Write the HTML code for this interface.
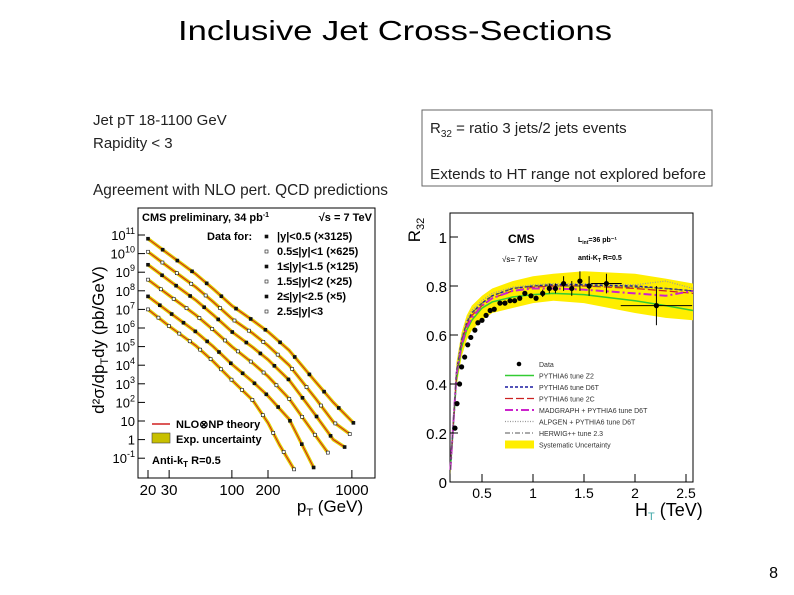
<!DOCTYPE html>
<html><head><meta charset="utf-8"><style>
body{margin:0;background:#fff;width:794px;height:595px;overflow:hidden;font-family:"Liberation Sans",Arial,sans-serif}
svg{position:absolute;left:0;top:0}
</style></head><body>
<svg id="s" width="794" height="595" viewBox="0 0 794 595">
<text x="178" y="40" font-size="28" textLength="434" lengthAdjust="spacingAndGlyphs">Inclusive Jet Cross-Sections</text>
<g font-size="15" fill="#222">
<text x="93" y="125">Jet pT 18-1100 GeV</text>
<text x="93" y="148">Rapidity &lt; 3</text>
<text x="93" y="195" font-size="16" textLength="295" lengthAdjust="spacingAndGlyphs">Agreement with NLO pert. QCD predictions</text>
</g>
<rect x="422" y="110" width="290" height="76" fill="none" stroke="#666" stroke-width="1"/>
<text x="430" y="133" font-size="15" fill="#222">R<tspan font-size="10" dy="4">32</tspan><tspan dy="-4"> = ratio 3 jets/2 jets events</tspan></text>
<text x="430" y="179" font-size="15" fill="#222" textLength="276" lengthAdjust="spacingAndGlyphs">Extends to HT range not explored before</text>
<text x="778" y="578" text-anchor="end" font-size="16">8</text>
<g id="L"></g><g id="R"></g>
</svg>
<script>
// ---- Left chart data (log10 of cross-section) ----
const s1x=[20,30,50,70,100,150,200,300,500,700,1030];
const s1y=[10.8,9.95,8.9,8.1,7.2,6.4,5.8,4.8,3.1,2.0,0.9];
const s2x=[20,30,50,70,100,150,200,300,500,700,960];
const s2y=[10.1,9.25,8.2,7.4,6.5,5.7,5.05,4.0,2.2,0.95,0.3];
const s3x=[20,30,50,70,100,150,200,300,500,700,870];
const s3y=[9.4,8.55,7.5,6.7,5.8,4.95,4.3,3.2,1.3,0.0,-0.4];
const s4x=[20,30,50,70,100,150,200,300,500,630];
const s4y=[8.6,7.75,6.7,5.9,5.0,4.1,3.4,2.2,0.2,-0.7];
const s5x=[20,30,50,70,100,150,200,300,480];
const s5y=[7.7,6.85,5.8,5.0,4.05,3.1,2.35,1.1,-1.5];
const s6x=[20,30,50,70,100,150,200,250,330];
const s6y=[7.0,6.1,5.05,4.2,3.2,2.1,0.9,-0.3,-1.6];
const yTickExp=[11,10,9,8,7,6,5,4,3,2,1,0,-1];
const xTicks=[20,30,100,200,1000];
const legendLabels=["|y|<0.5 (×3125)","0.5≤|y|<1 (×625)","1≤|y|<1.5 (×125)","1.5≤|y|<2 (×25)","2≤|y|<2.5 (×5)","2.5≤|y|<3"];
// ---- Right chart data ----
const htData=[0.235,0.255,0.28,0.30,0.33,0.36,0.39,0.43,0.46,0.50,0.54,0.58,0.62,0.676,0.725,0.775,0.82,0.87,0.92,0.98,1.03,1.095,1.16,1.22,1.30,1.38,1.46,1.55,1.72,2.21];
const r32Data=[0.22,0.32,0.40,0.47,0.51,0.56,0.59,0.62,0.65,0.66,0.68,0.70,0.705,0.73,0.73,0.74,0.74,0.75,0.77,0.76,0.75,0.77,0.79,0.79,0.81,0.79,0.82,0.80,0.81,0.72];
const r32Err=[0,0,0,0,0,0,0,0,0,0,0,0,0,0,0,0,0,0,0,0,0,0.015,0.02,0.02,0.03,0.03,0.04,0.04,0.04,0.08];
const htErr=[0,0,0,0,0,0,0,0,0,0,0,0,0,0,0,0,0,0,0,0,0,0,0,0,0,0,0,0,0.15,0.35];
const mGrid=[0.19,0.25,0.3,0.35,0.4,0.5,0.6,0.8,1.0,1.2,1.5,2.0,2.3,2.6];
const mZ2=[0.05,0.42,0.55,0.62,0.66,0.71,0.735,0.755,0.765,0.77,0.765,0.74,0.72,0.70];
const mD6T=[0.05,0.45,0.58,0.65,0.69,0.73,0.76,0.79,0.80,0.805,0.805,0.80,0.79,0.78];
const m2C=[0.05,0.44,0.57,0.64,0.68,0.72,0.75,0.78,0.795,0.80,0.80,0.79,0.78,0.77];
const mMad=[0.05,0.44,0.56,0.63,0.67,0.72,0.75,0.78,0.79,0.79,0.785,0.77,0.76,0.78];
const mAlp=[0.05,0.46,0.59,0.66,0.70,0.74,0.77,0.795,0.805,0.81,0.81,0.805,0.82,0.79];
const mHer=[0.05,0.45,0.58,0.65,0.69,0.73,0.76,0.79,0.80,0.80,0.80,0.795,0.79,0.78];
const bandLo=[0.03,0.39,0.51,0.58,0.62,0.66,0.69,0.71,0.73,0.74,0.73,0.69,0.67,0.66];
const bandHi=[0.07,0.49,0.61,0.68,0.72,0.76,0.79,0.82,0.84,0.85,0.86,0.85,0.83,0.81];
const rYTicks=[0,0.2,0.4,0.6,0.8,1];
const rXTicks=[0.5,1,1.5,2,2.5];
const rLegend=["Data","PYTHIA6 tune Z2","PYTHIA6 tune D6T","PYTHIA6 tune 2C","MADGRAPH + PYTHIA6 tune D6T","ALPGEN + PYTHIA6 tune D6T","HERWIG++ tune 2.3","Systematic Uncertainty"];

const NS="http://www.w3.org/2000/svg";
function mk(p,t,a,txt){const e=document.createElementNS(NS,t);for(const k in a)e.setAttribute(k,a[k]);if(txt!==undefined)e.textContent=txt;p.appendChild(e);return e;}
// Left axes
const LX0=138,LX1=375,LY0=208,LY1=478;
const lx=v=>148+(Math.log10(v)-Math.log10(20))*120;
const ly=e=>235+(11-e)*18.6;
const L=document.getElementById('L');
let e=mk(L,'rect',{x:LX0,y:LY0,width:LX1-LX0,height:LY1-LY0,fill:'#fff',stroke:'#000','stroke-width':1});


yTickExp.forEach(k=>{
  const y=ly(k);
  mk(L,'line',{x1:LX0,x2:LX0+7,y1:y,y2:y,stroke:'#000'});
  let lbl;
  if(k===1)lbl='10';else if(k===0)lbl='1';
  const t=mk(L,'text',{x:LX0-3,y:y+5,'text-anchor':'end','font-size':13});
  
  
  if(lbl)t.textContent=lbl;else{t.textContent='10';mk(t,'tspan',{dy:-6,'font-size':9},String(k));}
});
xTicks.forEach(v=>{
  const x=lx(v);
  mk(L,'line',{x1:x,x2:x,y1:LY1,y2:LY1-8,stroke:'#000'});
  const t=mk(L,'text',{x:x,y:LY1+17,'text-anchor':'middle','font-size':15},String(v));
  
  
});
e=mk(L,'text',{x:330,y:512,'text-anchor':'middle','font-size':17},'p');mk(e,'tspan',{dy:4,'font-size':11},'T');mk(e,'tspan',{dy:-4},' (GeV)');

e=mk(L,'text',{transform:'translate(104,340) rotate(-90)','text-anchor':'middle','font-size':17},'d²σ/dp');mk(e,'tspan',{dy:4,'font-size':11},'T');mk(e,'tspan',{dy:-4},'dy (pb/GeV)');

e=mk(L,'text',{x:142,y:221,'font-size':11,'font-weight':'bold'},'CMS preliminary, 34 pb');mk(e,'tspan',{dy:-4,'font-size':7},'-1');

e=mk(L,'text',{x:372,y:221,'font-size':11,'font-weight':'bold','text-anchor':'end'},'√s = 7 TeV');

e=mk(L,'text',{x:207,y:240,'font-size':11,'font-weight':'bold'},'Data for:');

const series=[[s1x,s1y],[s2x,s2y],[s3x,s3y],[s4x,s4y],[s5x,s5y],[s6x,s6y]];
series.forEach((s,i)=>{
  const pts=s[0].map((v,j)=>lx(v)+','+ly(s[1][j])).join(' ');
  let b=mk(L,'polyline',{points:pts,fill:'none',stroke:'#e0d000','stroke-width':3.5,'stroke-linejoin':'round'});
  
  let r=mk(L,'polyline',{points:pts,fill:'none',stroke:'#d02020','stroke-width':1});
  
  const n=14;
  for(let k=0;k<=n;k++){
    const lp=Math.log10(s[0][0])+(Math.log10(s[0][s[0].length-1])-Math.log10(s[0][0]))*k/n;
    const pv=Math.pow(10,lp);let j=0;while(j<s[0].length-2&&s[0][j+1]<pv)j++;
    const a0=Math.log10(s[0][j]),a1=Math.log10(s[0][j+1]);const f=(lp-a0)/(a1-a0);
    const yv=s[1][j]+(s[1][j+1]-s[1][j])*f;
    const d=mk(L,'rect',{x:lx(pv)-1.5,y:ly(yv)-1.5,width:3,height:3,fill:i%2?'#fff':'#111',stroke:'#111','stroke-width':0.6});
    
  }
  const ty=240+i*15;
  mk(L,'rect',{x:265,y:ty-5,width:3,height:3,fill:i%2?'#fff':'#111',stroke:'#111','stroke-width':0.6});
  const t=mk(L,'text',{x:277,y:ty,'font-size':11,'font-weight':'bold'},legendLabels[i]);
  
});
mk(L,'line',{x1:152,x2:170,y1:424,y2:424,stroke:'#d02020','stroke-width':1.5});
e=mk(L,'text',{x:176,y:428,'font-size':11,'font-weight':'bold'},'NLO⊗NP theory');
mk(L,'rect',{x:152,y:433,width:18,height:10,fill:'#c8c000',stroke:'#444','stroke-width':0.6});
e=mk(L,'text',{x:176,y:443,'font-size':11,'font-weight':'bold'},'Exp. uncertainty');
e=mk(L,'text',{x:152,y:464,'font-size':11,'font-weight':'bold'},'Anti-k');mk(e,'tspan',{dy:3,'font-size':8},'T');mk(e,'tspan',{dy:-3},' R=0.5');


// Right chart
const RX0=450,RX1=693,RY0=213,RY1=482;
const rx=v=>431+v*102;
const ry=v=>482-v*245;
const R=document.getElementById('R');
e=mk(R,'rect',{x:RX0,y:RY0,width:RX1-RX0,height:RY1-RY0,fill:'#fff',stroke:'#000'});

const bandPts=mGrid.map((v,i)=>Math.min(rx(v),RX1)+','+ry(bandHi[i])).concat(mGrid.slice().reverse().map((v,i)=>Math.min(rx(v),RX1)+','+ry(bandLo[mGrid.length-1-i])));
e=mk(R,'polygon',{points:bandPts.join(' '),fill:'#ffee00'});

const models=[[mZ2,'#33cc33','',1.5],[mD6T,'#1a1aa0','3,2',1.5],[m2C,'#cc2222','8,3',1.2],[mMad,'#cc22cc','8,3,2,3',2],[mAlp,'#999','1,1.5',1.2],[mHer,'#555','5,2,1,2',1]];
const mNames=['model-pythia6-z2','model-pythia6-d6t','model-pythia6-2c','model-madgraph','model-alpgen','model-herwig'];
models.forEach((m,i)=>{
  const p=mk(R,'polyline',{points:mGrid.map((v,j)=>Math.min(rx(v),RX1)+','+ry(m[0][j])).join(' '),fill:'none',stroke:m[1],'stroke-width':m[3],'stroke-dasharray':m[2]});
  
});
htData.forEach((h,i)=>{
  const x=rx(h),y=ry(r32Data[i]);
  if(r32Err[i])mk(R,'line',{x1:x,x2:x,y1:ry(r32Data[i]-r32Err[i]),y2:ry(r32Data[i]+r32Err[i]),stroke:'#000'});
  if(htErr[i])mk(R,'line',{x1:rx(h-htErr[i]),x2:Math.min(rx(h+htErr[i]),RX1),y1:y,y2:y,stroke:'#000'});
  const c=mk(R,'circle',{cx:x,cy:y,r:2.6,fill:'#000'});
  
});
rYTicks.forEach(v=>{const y=ry(v);mk(R,'line',{x1:RX0,x2:RX0+8,y1:y,y2:y,stroke:'#000'});
  const t=mk(R,'text',{x:RX0-3,y:y+6,'text-anchor':'end','font-size':15},String(v));});
rXTicks.forEach(v=>{const x=rx(v);mk(R,'line',{x1:x,x2:x,y1:RY1,y2:RY1-8,stroke:'#000'});
  const t=mk(R,'text',{x:x,y:RY1+16,'text-anchor':'middle','font-size':14},String(v));});
e=mk(R,'text',{transform:'translate(420,230) rotate(-90)','text-anchor':'middle','font-size':17},'R');mk(e,'tspan',{dy:4,'font-size':11},'32');

e=mk(R,'text',{x:635,y:516,'font-size':18},'H');mk(e,'tspan',{dy:4,'font-size':11,fill:'#4aa'},'T');mk(e,'tspan',{dy:-4},' (TeV)');

e=mk(R,'text',{x:508,y:243,'font-size':12,'font-weight':'bold'},'CMS');
e=mk(R,'text',{x:502,y:262,'font-size':8},'√s= 7 TeV');
e=mk(R,'text',{x:578,y:242,'font-size':7,'font-weight':'bold'},'L');mk(e,'tspan',{dy:2,'font-size':5},'int');mk(e,'tspan',{dy:-2},'=36 pb⁻¹');
e=mk(R,'text',{x:578,y:260,'font-size':7,'font-weight':'bold'},'anti-K');mk(e,'tspan',{dy:2,'font-size':5},'T');mk(e,'tspan',{dy:-2},' R=0.5');
rLegend.forEach((s,i)=>{
  const y=366+i*11.5;
  if(i===0)mk(R,'circle',{cx:519,cy:y-2,r:2.3,fill:'#000'});
  else if(i===7)mk(R,'rect',{x:505,y:y-6,width:29,height:8,fill:'#ffee00'});
  else{const m=models[i-1];mk(R,'line',{x1:505,x2:534,y1:y-2,y2:y-2,stroke:m[1],'stroke-width':m[3],'stroke-dasharray':m[2]});}
  const t=mk(R,'text',{x:539,y:y+1,'font-size':7,fill:'#333'},s);
  
});
</script>
</body></html>
